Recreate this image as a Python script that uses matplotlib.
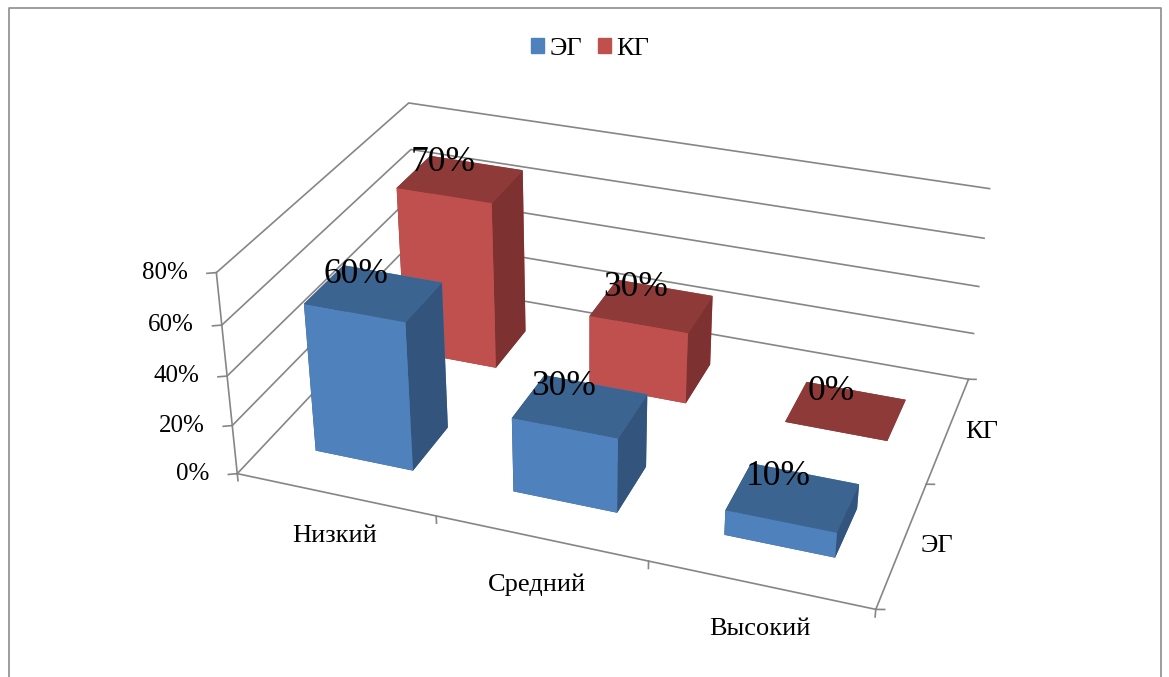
import numpy as np
import matplotlib
matplotlib.use('Agg')
import matplotlib.pyplot as plt
from matplotlib.patches import Patch
from matplotlib.lines import Line2D

plt.rcParams['font.family'] = ['Liberation Serif', 'DejaVu Serif']

# Werte aus dem Bild
categories = ['Низкий', 'Средний', 'Высокий']
series_names = ['ЭГ', 'КГ']
eg_values = [0.6, 0.3, 0.1]
kg_values = [0.7, 0.3, 0.0]
z_ticks = [0.0, 0.2, 0.4, 0.6, 0.8]
z_labels = ['0%', '20%', '40%', '60%', '80%']

# front, top, side per series
blue = ('#4F81BD', '#3B6491', '#33547C')
red = ('#C0504D', '#8E3A39', '#7D3231')
grid = '#868686'
line_w = 1.2
bar_w = 0.5
bar_d = 0.4

fig = plt.figure(figsize=(11.69, 6.77), dpi=100)
ax = fig.add_axes([0, 0, 1, 1], projection='3d', computed_zorder=False)
ax.set_axis_off()
ax.apply_aspect()

# Kamera: Excel-Perspektive aus Achsenecken im Bild kalibriert (x, y, z) -> Pixel
camera_world = [(0, 0, 0), (0, 0, .2), (0, 0, .4), (0, 0, .6), (0, 0, .8), (0, 2, .8), (0, 2, 0),
                (3, 2, .8), (3, 2, .6), (3, 2, .4), (3, 2, .2), (3, 2, 0), (3, 1, 0), (3, 0, 0),
                (1, 0, 0), (2, 0, 0)]
camera_pixel = [(237, 473), (232, 425), (227, 376), (222, 325), (217, 273), (408, 103), (418, 282),
                (988, 188), (985, 238), (980, 287), (975, 335), (967, 379), (925, 483), (877, 608),
                (436, 517), (648, 563)]
disp = np.array([(px, 677 - py) for px, py in camera_pixel], dtype=float)
uv = ax.transData.inverted().transform(disp)
rows = []
for (x, y, z), (u, v) in zip(camera_world, uv):
    rows.append([x, y, z, 1, 0, 0, 0, 0, -u * x, -u * y, -u * z, -u])
    rows.append([0, 0, 0, 0, x, y, z, 1, -v * x, -v * y, -v * z, -v])
p = np.linalg.svd(np.array(rows))[2][-1].reshape(3, 4)
p = p / (p[2] @ [0, 0, 0, 1])
# dritte Zeile nur für die Tiefensortierung: z/w bleibt negativ und wächst nach hinten
M = np.vstack([p[0], p[1], [0, 0, 0, -0.5], p[2]])
ax.get_proj = lambda: M


def place(x, y, z, text, dx=0, dy=0, **kw):
    h = M @ [x, y, z, 1]
    ax.annotate(text, (h[0] / h[3], h[1] / h[3]), xytext=(dx, dy), textcoords='offset pixels',
                annotation_clip=False, zorder=50, ha=kw.pop('ha', 'center'), va='center', **kw)


# Wände
for z in z_ticks:
    ax.plot([0, 0, 3], [0, 2, 2], [z, z, z], color=grid, lw=line_w, zorder=1, clip_on=False)
    ax.plot([0, -0.035], [0, -0.02], [z, z], color=grid, lw=line_w, zorder=1, clip_on=False)
ax.plot([0, 0], [0, 0], [0, 0.8], color=grid, lw=line_w, zorder=1, clip_on=False)
ax.plot([0, 3, 3], [0, 0, 2], [0, 0, 0], color=grid, lw=line_w, zorder=1, clip_on=False)

# Teilstriche
for i in range(0, 4):
    ax.plot([i, i], [0, 0], [0, -0.03], color=grid, lw=line_w, zorder=1, clip_on=False)
for j in range(0, 3):
    ax.plot([3, 3.035], [j, j + 0.012], [0, 0], color=grid, lw=line_w, zorder=1, clip_on=False)


def draw_bar(i, j, value, cols, zo):
    # faces: bottom, top, front, back, left, right
    face = [cols[1], cols[1], cols[0], cols[0], cols[2], cols[2]]
    ax.bar3d(i + 0.5 - bar_w / 2, j + 0.5 - bar_d / 2, 0, bar_w, bar_d, value,
             color=face, shade=False, zorder=zo, clip_on=False)
    place(i + 0.5 - (0.16 - 0.025 * i), j + 0.5 + bar_d / 2 - 0.05, value, f'{value:.0%}',
          dy=-2 + 2 * j, fontsize=25.5)


for i in range(len(categories)):
    draw_bar(i, 1, kg_values[i], red, 5 + i)
for i in range(len(categories)):
    draw_bar(i, 0, eg_values[i], blue, 10 + i)

for z, lab in zip(z_ticks, z_labels):
    place(0, 0, z, lab, dx=-28, fontsize=18, ha='right')
for i, lab in enumerate(categories):
    place(i + 0.5, 0, 0, lab, dx=[-1, -4, 0][i], dy=[-42, -47, -44][i], fontsize=19)
for j, lab in enumerate(series_names):
    place(3, j + 0.5, 0, lab, dx=[35, 33][j], dy=[-2, -2][j], fontsize=19)

handles = [Patch(color=blue[0]), Patch(color=red[0])]
fig.legend(handles, series_names, loc='center', bbox_to_anchor=(590 / 1169, 1 - 49 / 677), ncol=2,
           frameon=False, fontsize=19, handlelength=0.5, handleheight=0.5,
           handletextpad=0.2, columnspacing=0.6)

fig.add_artist(Line2D([9 / 1169, 9 / 1169, 1161 / 1169, 1161 / 1169],
                      [0, 669 / 677, 669 / 677, 0], color='#8C8C8C', lw=1.2))

fig.savefig('out.png', dpi=100)
